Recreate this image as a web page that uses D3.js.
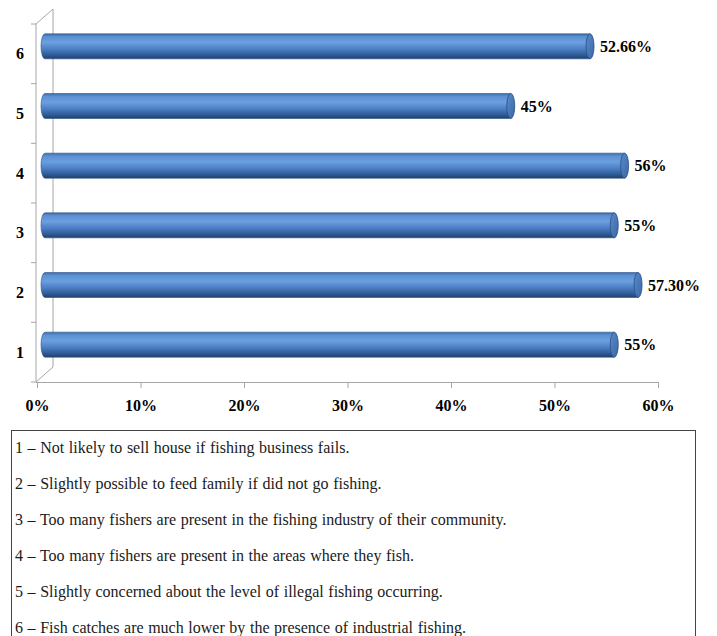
<!DOCTYPE html>
<html>
<head>
<meta charset="utf-8">
<script src="https://cdn.jsdelivr.net/npm/d3@7"></script>
<style>
  html, body { margin: 0; padding: 0; background: #fff; }
  svg { display: block; }
</style>
</head>
<body>
<svg id="chart" width="717" height="636"></svg>
<script>
// Statement numbers (top to bottom) and share of respondents agreeing
const categories = ["6", "5", "4", "3", "2", "1"];
const values = [52.66, 45, 56, 55, 57.30, 55];
const valueLabels = ["52.66%", "45%", "56%", "55%", "57.30%", "55%"];
const xTicks = [0, 10, 20, 30, 40, 50, 60];
const legendItems = [
  "1 \u2013 Not likely to sell house if fishing business fails.",
  "2 \u2013 Slightly possible to feed family if did not go fishing.",
  "3 \u2013 Too many fishers are present in the fishing industry of their community.",
  "4 \u2013 Too many fishers are present in the areas where they fish.",
  "5 \u2013 Slightly concerned about the level of illegal fishing occurring.",
  "6 \u2013 Fish catches are much lower by the presence of industrial fishing."
];

const SERIF = "'Liberation Serif', 'Times New Roman', Tinos, serif";
const svg = d3.select("#chart");

// Front plane of the plot
const x = d3.scaleLinear().domain([0, 60]).range([37, 658]);
const y = d3.scaleBand().domain(categories).range([24, 382]).padding(0);

// 3-D depth: back wall offset and bar (mid-depth) offset
const depthX = 17, depthY = -15;
const barDX = 8, barDY = -7.5;
const barH = 25, capRx = 4;
const gridColor = "#a6a6a6";

// Gradients for the cylinder bodies and end caps
const defs = svg.append("defs");
const grad = defs.append("linearGradient")
  .attr("id", "cyl").attr("x1", 0).attr("y1", 0).attr("x2", 0).attr("y2", 1);
[[0, "#3d6cab"], [0.12, "#5d91d3"], [0.35, "#6a9fe0"], [0.6, "#4d80c4"], [0.85, "#2f5b96"], [1, "#213f6a"]]
  .forEach(([o, c]) => grad.append("stop").attr("offset", o).attr("stop-color", c));
const capGrad = defs.append("linearGradient")
  .attr("id", "cap").attr("x1", 0).attr("y1", 0).attr("x2", 1).attr("y2", 1);
[[0, "#5a8bcc"], [1, "#3a67a5"]]
  .forEach(([o, c]) => capGrad.append("stop").attr("offset", o).attr("stop-color", c));

// Walls and floor outline
const x0 = x(0) - 1;
const yTop = y.range()[0], yBot = y.range()[1];
const walls = svg.append("g").attr("fill", "none").attr("stroke", gridColor).attr("stroke-width", 1);
walls.append("line").attr("x1", x0 + depthX).attr("y1", yTop + depthY).attr("x2", x0 + depthX).attr("y2", yBot + depthY);
walls.append("line").attr("x1", x0).attr("y1", yTop).attr("x2", x0 + depthX).attr("y2", yTop + depthY);
walls.append("line").attr("x1", x0).attr("y1", yBot).attr("x2", x0 + depthX).attr("y2", yBot + depthY);
walls.append("line").attr("x1", x0).attr("y1", yTop).attr("x2", x0).attr("y2", yBot);

// Left axis ticks at category boundaries
const bounds = categories.map(c => y(c)).concat([yBot]);
walls.selectAll(".ltick").data(bounds).join("line")
  .attr("x1", x0 - 5).attr("x2", x0).attr("y1", d => d).attr("y2", d => d);

// Category labels
svg.append("g")
  .selectAll("text").data(categories).join("text")
  .attr("x", 24).attr("y", d => y(d) + y.bandwidth() / 2)
  .attr("text-anchor", "end").attr("dominant-baseline", "central")
  .style("font-family", SERIF).style("font-size", "16px").style("font-weight", "bold")
  .attr("fill", "#000")
  .text(d => d);

// Bottom axis
const xAxis = d3.axisBottom(x).tickValues(xTicks).tickFormat(d => d + "%").tickSize(6).tickPadding(12);
const ax = svg.append("g").attr("transform", `translate(0,${yBot})`).call(xAxis);
ax.select(".domain").attr("stroke", gridColor).attr("d", `M${x0},0.5H${x(60)}`);
ax.selectAll(".tick line").attr("stroke", gridColor);
ax.selectAll(".tick text")
  .style("font-family", SERIF).style("font-size", "16px").style("font-weight", "bold")
  .attr("fill", "#000");

// Cylinder bars
const data = categories.map((c, i) => ({ c, v: values[i], label: valueLabels[i] }));
const bars = svg.append("g");
data.forEach(d => {
  const cy = y(d.c) + y.bandwidth() / 2 + barDY;
  const xa = x(0) + barDX, xb = x(d.v) + barDX;
  const ry = barH / 2;
  const g = bars.append("g");
  g.append("path")
    .attr("d", `M${xa},${cy - ry} L${xb},${cy - ry} L${xb},${cy + ry} L${xa},${cy + ry} A${capRx},${ry} 0 0 1 ${xa},${cy - ry} Z`)
    .attr("fill", "url(#cyl)")
    .attr("stroke", "#2c5288").attr("stroke-width", 0.6);
  g.append("ellipse")
    .attr("cx", xb).attr("cy", cy).attr("rx", capRx).attr("ry", ry)
    .attr("fill", "url(#cap)")
    .attr("stroke", "#2a4f84").attr("stroke-width", 0.8);
  g.append("text")
    .attr("x", xb + capRx + 6).attr("y", cy)
    .attr("dominant-baseline", "central")
    .style("font-family", SERIF).style("font-size", "16px").style("font-weight", "bold")
    .attr("fill", "#000")
    .text(d.label);
});

// Legend box with statement descriptions
const legend = svg.append("g");
legend.append("rect")
  .attr("x", 11.5).attr("y", 430.5).attr("width", 684).attr("height", 210)
  .attr("fill", "#fff").attr("stroke", "#444").attr("stroke-width", 1);
legend.selectAll("text").data(legendItems).join("text")
  .attr("x", 15).attr("y", (d, i) => 447 + i * 36)
  .attr("dominant-baseline", "central")
  .style("font-family", SERIF).style("font-size", "16px").style("word-spacing", "0.6px")
  .attr("fill", "#1a1a1a")
  .text(d => d);
</script>
</body>
</html>
